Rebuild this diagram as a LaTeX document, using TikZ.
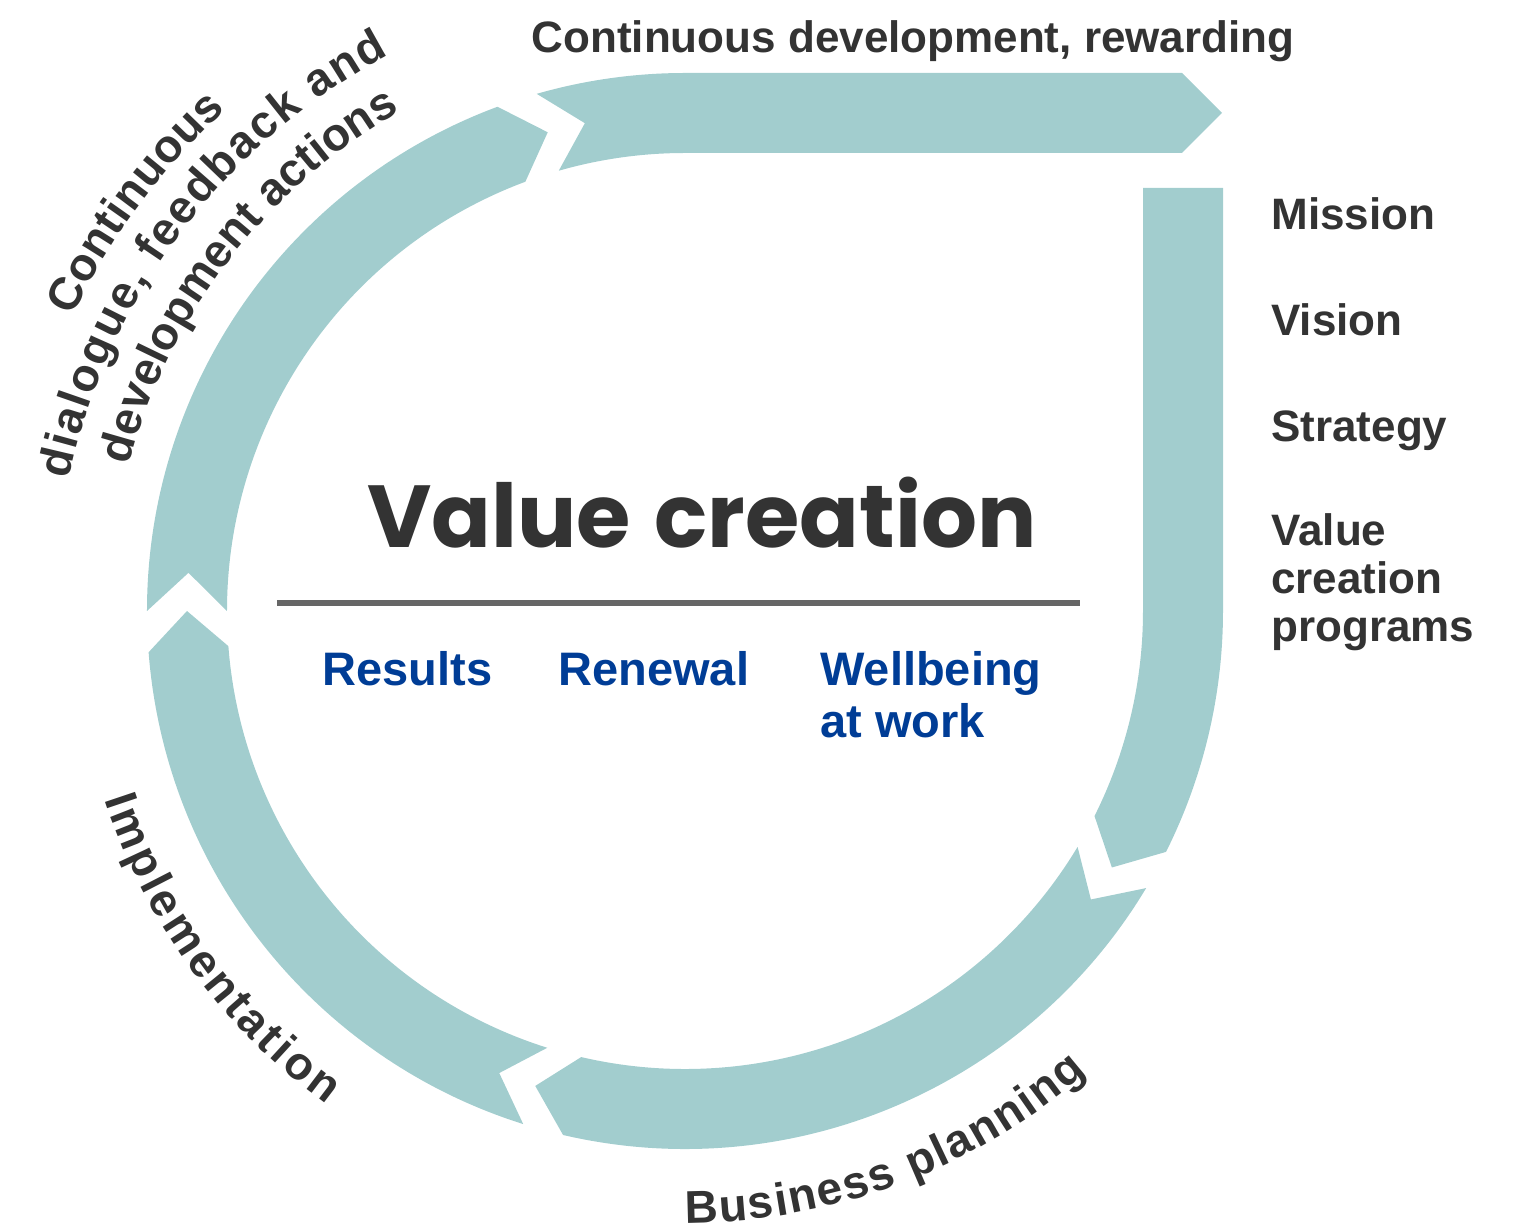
\documentclass[tikz,border=0pt]{standalone}
\usepackage{fontspec}
\setmainfont{Liberation Sans}
\newfontfamily\valfont{Poppins}
\usetikzlibrary{decorations.text}

\definecolor{ringteal}{RGB}{162,205,206}
\definecolor{ink}{RGB}{51,51,51}
\definecolor{valblue}{RGB}{0,61,150}
\definecolor{rulegray}{RGB}{102,102,102}

\newcommand\ringin{458}
\newcommand\ringout{538}
\newcommand\ringmid{498}
\newcommand\notchang{4.4}

\begin{document}
\begin{tikzpicture}
[x=0.5pt,y=0.5pt,%
  every node/.style={inner sep=0pt,text=ink,font=\bfseries\fontsize{22}{24}\selectfont},%
  band/.style={fill=ringteal},%
  rule/.style={draw=rulegray,line width=3pt},%
  bluelabel/.style={anchor=base west,align=left,text=valblue,font=\bfseries\fontsize{23.5}{26}\selectfont},%
  sidelabel/.style={anchor=base west,align=left},%
  arclabel/.style={decorate,decoration={text along path,text align={fit to path},text color=ink,%
    text={|\bfseries\fontsize{23}{26}\selectfont|#1}}}]
\useasboundingbox (-685,-619) rectangle (851,611);

\foreach \tl/\hd in {180/106,-107.5/-180,-31/-107.5}
  \fill[band] (\tl:\ringout) -- (\tl-\notchang:\ringmid) -- (\tl:\ringin)
    arc[start angle=\tl,end angle=\hd+\notchang,radius=\ringin]
    -- (\hd:\ringmid) -- (\hd+\notchang:\ringout)
    arc[start angle=\hd+\notchang,end angle=\tl,radius=\ringout] -- cycle;
\fill[band] (106:\ringout) -- (106-\notchang:\ringmid) -- (106:\ringin)
  arc[start angle=106,end angle=90,radius=\ringin]
  -- (497,\ringin) -- (537,\ringmid) -- (497,\ringout) -- (0,\ringout)
  arc[start angle=90,end angle=106,radius=\ringout] -- cycle;
\fill[band] (\ringin,423) -- (\ringout,423) -- (\ringout,0)
  arc[start angle=0,end angle=-31+\notchang,radius=\ringout]
  -- (-31:\ringmid) -- (-31+\notchang:\ringin)
  arc[start angle=-31+\notchang,end angle=0,radius=\ringin] -- cycle;

\node[anchor=base,font=\valfont\bfseries\fontsize{44}{50}\selectfont] (title) at (17,63) {Value\hspace{12pt}creation};
\coordinate (ruleL) at (-408,8);
\coordinate (ruleR) at (395,8);
\draw[rule] (ruleL) -- (ruleR);
\node[bluelabel] (results) at (-363,-75) {Results};
\node[bluelabel] (renewal) at (-127,-75) {Renewal};
\node[bluelabel] (wellbeing) at (135,-127) {Wellbeing\\at work};

\node[sidelabel] (mission) at (586,381) {Mission};
\node[sidelabel] (vision) at (586,275) {Vision};
\node[sidelabel] (strategy) at (586,169) {Strategy};
\node[sidelabel] (programs) at (586,-31) {Value\\creation\\programs};

\node[anchor=base] (rewarding) at (228,558) {Continuous development, rewarding};
\path[arclabel={Continuous}] (154.3:680) arc[start angle=154.3,end angle=132.5,radius=680];
\path[arclabel={dialogue, feedback and}] (168:630) arc[start angle=168,end angle=118,radius=630];
\path[arclabel={development actions}] (165.3:575) arc[start angle=165.3,end angle=120.7,radius=575];
\path[arclabel={Implementation}] (198:610) arc[start angle=198,end angle=234,radius=610];
\path[arclabel={Business planning}] (-90:612) arc[start angle=-90,end angle=-49,radius=612];
\end{tikzpicture}
\end{document}
